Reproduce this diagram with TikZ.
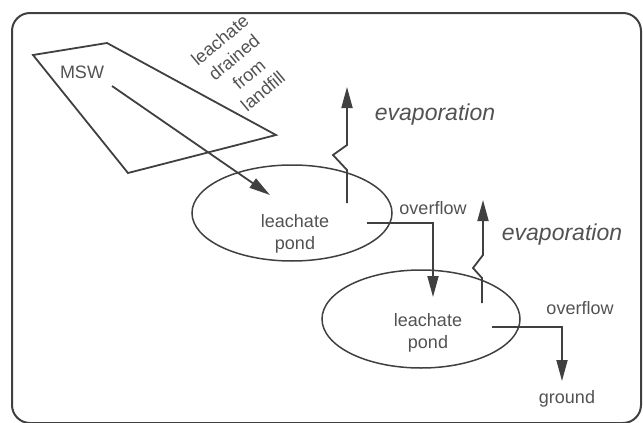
\documentclass[tikz,border=0pt]{standalone}
\usepackage{fontspec}
\setmainfont{Liberation Sans}
\usetikzlibrary{shapes.geometric,arrows.meta}
\definecolor{ink}{gray}{0.25}
\definecolor{txt}{gray}{0.32}
\tikzset{
  frame/.style={draw=ink,line width=2pt,rounded corners=18pt},
  landfill/.style={draw=ink,line width=1.8pt,line join=miter},
  pond/.style={draw=ink,line width=1.5pt,ellipse,inner sep=0pt},
  lbl/.style={text=txt,font=\fontsize{18}{22}\selectfont,align=center,inner sep=0pt},
  rot/.style={lbl,rotate=40,anchor=base},
  evap/.style={text=txt,font=\fontsize{23}{26}\selectfont\itshape,inner sep=0pt},
  flow/.style={draw=ink,line width=1.8pt,-{Triangle[length=21pt,width=11pt]}},
}
\begin{document}
\begin{tikzpicture}[x=1pt,y=-1pt]
\useasboundingbox (0,0) rectangle (643,423);
\draw[frame] (12,13) rectangle (641,423);
% landfill
\draw[landfill] (33,55) -- (107,43) -- (276,135) -- (128,173) -- cycle;
\node[lbl] (msw) at (82,72) {MSW};
\node[rot] (dr1) at (224,45) {leachate};
\node[rot] (dr2) at (238,62) {drained};
\node[rot] (dr3) at (253,79) {from};
\node[rot] (dr4) at (267,96) {landfill};
% ponds
\node[pond,minimum width=200pt,minimum height=96pt] (pond1) at (292,213) {};
\node[lbl] (pond1txt) at (295,234) {leachate\\pond};
\node[pond,minimum width=198pt,minimum height=98pt] (pond2) at (421,319) {};
\node[lbl] (pond2txt) at (428,333) {leachate\\pond};
% labels
\node[evap] (ev1) at (435,115) {evaporation};
\node[evap] (ev2) at (562,235) {evaporation};
\node[lbl] (of1) at (433,208) {overflow};
\node[lbl] (of2) at (580,308) {overflow};
\node[lbl] (ground) at (567,399) {ground};
% coordinates
\coordinate (mswS) at (112,86);
\coordinate (mswE) at (270,195);
\coordinate (e1b) at (347,203);
\coordinate (e1t) at (347,87);
\coordinate (e2b) at (482,303);
\coordinate (e2t) at (483,200);
\coordinate (o1s) at (367,223);
\coordinate (o1e) at (433,297);
\coordinate (o2s) at (492,327);
\coordinate (o2e) at (562,381);
% connectors
\draw[flow] (mswS) -- (mswE);
\draw[flow] (e1b) -- (347,170) -- (333,155) -- (347,145) -- (e1t);
\draw[flow] (e2b) -- (482,278) -- (473,268) -- (483,255) -- (e2t);
\draw[flow] (o1s) -- (o1s -| o1e) -- (o1e);
\draw[flow] (o2s) -- (o2s -| o2e) -- (o2e);
\end{tikzpicture}
\end{document}
